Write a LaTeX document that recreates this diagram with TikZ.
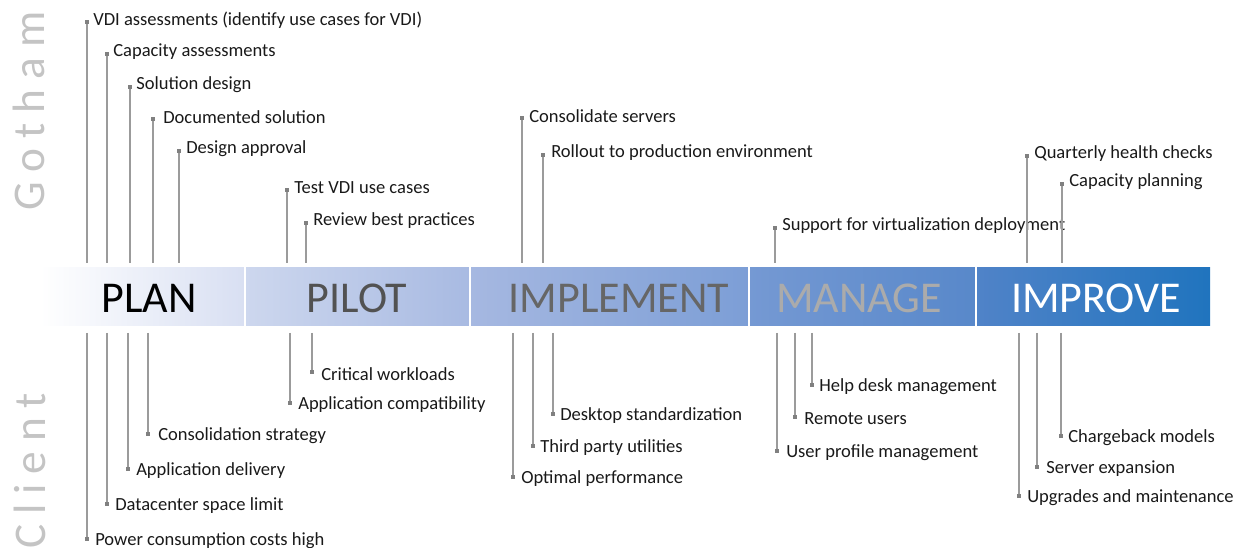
\documentclass[tikz,border=0pt]{standalone}
\usepackage{fontspec}
\setmainfont{Carlito}
\usetikzlibrary{arrows.meta}
\definecolor{stemgray}{RGB}{155,155,155}
\definecolor{markgray}{RGB}{128,128,128}
\definecolor{sidegray}{RGB}{196,196,196}
\definecolor{planend}{RGB}{216,223,242}
\definecolor{pilotstart}{RGB}{205,215,238}
\definecolor{pilotend}{RGB}{168,186,226}
\definecolor{implstart}{RGB}{166,184,225}
\definecolor{implend}{RGB}{124,158,214}
\definecolor{managestart}{RGB}{117,153,211}
\definecolor{manageend}{RGB}{88,136,202}
\definecolor{improvestart}{RGB}{80,131,200}
\definecolor{improveend}{RGB}{32,116,190}

\tikzset{
  note/.style={anchor=west, inner sep=0pt, yshift=-1.5pt, font=\fontsize{13.9}{16}\selectfont, text=black!90},
  stem/.style={draw=stemgray, line width=1.5pt, -{Square[length=3pt,width=3pt,color=markgray]}},
  phase/.style={inner sep=0pt, font=\fontsize{33}{38}\selectfont},
  side/.style={rotate=90, inner sep=0pt, text=sidegray,
    font=\fontsize{34}{40}\selectfont\addfontfeatures{LetterSpace=22}},
  divider/.style={draw=white, line width=2pt}
}

\begin{document}
\begin{tikzpicture}[x=0.75pt,y=-0.75pt]
\useasboundingbox (0,0) rectangle (1242,548);

% side captions
\node[side] (gotham) at (29,111) {Gotham};
\node[side] (client) at (30,471) {Client};

% the phase bar
\shade[left color=white,        right color=planend]    (40,268)  rectangle (245,326);
\shade[left color=pilotstart,   right color=pilotend]   (245,268) rectangle (470,326);
\shade[left color=implstart,    right color=implend]    (470,268) rectangle (749,326);
\shade[left color=managestart,  right color=manageend]  (749,268) rectangle (976,326);
\shade[left color=improvestart, right color=improveend] (976,268) rectangle (1210,326);
\foreach \dx in {245,470,749,976}
  \draw[divider] (\dx,266) -- (\dx,328);

\node[phase, text=black]         (plan)      at (149,298)  {PLAN};
\node[phase, text=black!68]      (pilot)     at (357,298)  {PILOT};
\node[phase, text=black!60]      (implement) at (619,298)  {IMPLEMENT};
\node[phase, text=black!33]      (manage)    at (859,298)  {MANAGE};
\node[phase, text=white]         (improve)   at (1096,298) {IMPROVE};

% Gotham side (above the bar)
\foreach \px/\tx/\ty/\txt [count=\i] in {
    87/93/18/{VDI assessments (identify use cases for VDI)},
    107/113/50/{Capacity assessments},
    130/136/83/{Solution design},
    153/163/115/{Documented solution},
    179/186/147/{Design approval},
    287/294/186/{Test VDI use cases},
    306/313/219/{Review best practices},
    522/529/114/{Consolidate servers},
    543/551/151/{Rollout to production environment},
    775/782/224/{Support for virtualization deployment},
    1027/1034/152/{Quarterly health checks},
    1062/1069/180/{Capacity planning}}
{
  \node[note] (up\i) at (\tx,\ty) {\txt};
  \coordinate (upfoot\i) at (\px,263);
  \draw[stem] (upfoot\i) -- (upfoot\i |- up\i.west);
}

% client side (below the bar)
\foreach \px/\tx/\ty/\txt [count=\i] in {
    87/95/539/{Power consumption costs high},
    107/115/504/{Datacenter space limit},
    128/136/469/{Application delivery},
    148/158/434/{Consolidation strategy},
    290/298/403/{Application compatibility},
    312/321/372/{Critical workloads},
    513/521/477/{Optimal performance},
    533/540/446/{Third party utilities},
    553/560/414/{Desktop standardization},
    777/786/451/{User profile management},
    795/804/417/{Remote users},
    812/819/385/{Help desk management},
    1019/1027/496/{Upgrades and maintenance},
    1037/1046/467/{Server expansion},
    1061/1068/436/{Chargeback models}}
{
  \node[note] (dn\i) at (\tx,\ty) {\txt};
  \coordinate (dnfoot\i) at (\px,333);
  \draw[stem] (dnfoot\i) -- (dnfoot\i |- dn\i.west);
}
\end{tikzpicture}
\end{document}
